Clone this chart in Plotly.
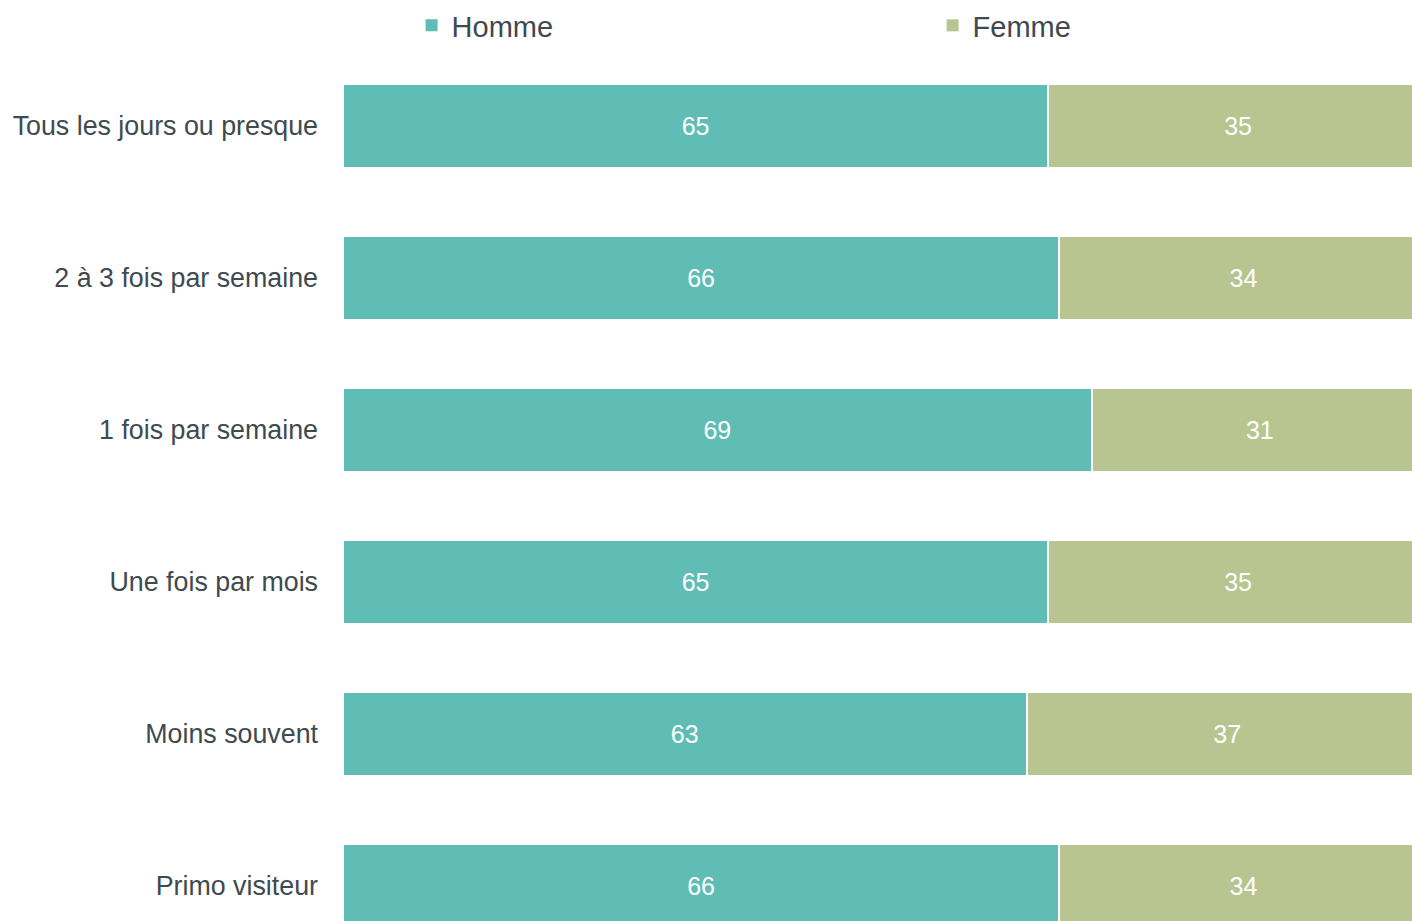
import plotly.graph_objects as go

categories = [
    "Tous les jours ou presque",
    "2 à 3 fois par semaine",
    "1 fois par semaine",
    "Une fois par mois",
    "Moins souvent",
    "Primo visiteur",
]
homme = [65, 66, 69, 65, 63, 66]
femme = [35, 34, 31, 35, 37, 34]

TEAL = "#5FBDB5"
SAGE = "#B8C590"
INK = "#3E4A50"
FONT = "Liberation Sans, Arial, sans-serif"

fig = go.Figure()
for name, vals, col in [("Homme", homme, TEAL), ("Femme", femme, SAGE)]:
    # stacked segments, separated by a thin white edge
    fig.add_trace(go.Bar(
        name=name, y=categories, x=vals, orientation="h",
        marker=dict(color=col, line=dict(color="white", width=2)),
        text=vals, texttemplate="%{x}", textposition="inside",
        insidetextanchor="middle",
        textfont=dict(color="white", size=25, family=FONT),
        width=0.555, hoverinfo="skip", showlegend=False,
        legendgroup=name,
    ))

for name, col in [("Homme", TEAL), ("Femme", SAGE)]:
    # legend swatches without the white edge
    fig.add_trace(go.Bar(
        name=name, y=[None], x=[None], orientation="h",
        marker=dict(color=col, line=dict(width=0)),
        showlegend=True, legendgroup=name, hoverinfo="skip",
    ))

fig.update_layout(
    width=1412, height=921,
    barmode="stack",
    paper_bgcolor="white", plot_bgcolor="white",
    margin=dict(l=343, r=0, t=50, b=0, autoexpand=False),
    font=dict(family=FONT, color=INK, size=27),
    showlegend=True,
    legend=dict(
        orientation="h", xref="container", yref="container",
        x=0.2915, xanchor="left", y=1.0, yanchor="top",
        entrywidth=476, font=dict(size=29, color=INK),
        traceorder="normal",
    ),
    uniformtext=dict(mode="show", minsize=10),
)
fig.update_xaxes(range=[0, 100 * 1069 / 1085], visible=False, fixedrange=True)
fig.update_yaxes(
    range=[-0.5 + 871 / 152, -0.5], type="category",
    categoryorder="array", categoryarray=categories,
    showgrid=False, showline=False, zeroline=False, ticks="",
    ticklabelstandoff=24, tickfont=dict(size=26.8, color=INK),
    fixedrange=True,
)

fig.write_html("out.html")
